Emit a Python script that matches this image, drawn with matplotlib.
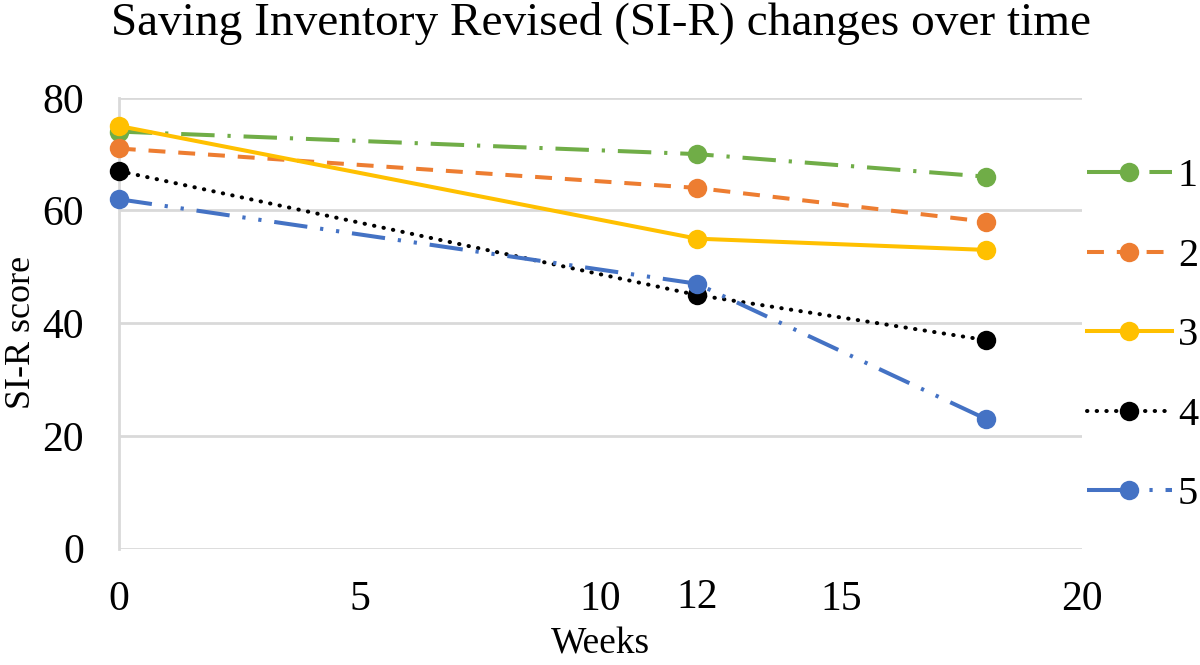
import matplotlib
matplotlib.use('Agg')
import matplotlib.pyplot as plt
import matplotlib.transforms as mtransforms

plt.rcParams['font.family'] = ['Liberation Serif', 'DejaVu Serif']

weeks = [0, 12, 18]
labels = ['1', '2', '3', '4', '5']
scores = [
    [74, 70, 66],
    [71, 64, 58],
    [75, 55, 53],
    [67, 45, 37],
    [62, 47, 23],
]
colors = ['#70AD47', '#ED7D31', '#FFC000', '#000000', '#4472C4']
styles = [
    (0, (8.3, 3.2, 0.8, 3.2)),
    (0, (4.2, 3.2)),
    '-',
    (0, (0.1, 2.3)),
    (0, (8.3, 3.2, 0.8, 3.2, 0.8, 3.2)),
]
xticks = [0, 5, 10, 15, 20]
yticks = [0, 20, 40, 60, 80]

fig = plt.figure(figsize=(12, 6.65), dpi=100)
ax = fig.add_axes([0.099, 0.175, 0.803, 0.678])

for i in range(len(labels)):
    ax.plot(weeks, scores[i], color=colors[i], linestyle=styles[i], linewidth=2.9,
            marker='o', markersize=14, markeredgewidth=0, clip_on=False,
            dash_capstyle='round' if i == 3 else 'butt', label=labels[i], zorder=3)

ax.set_xlim(0, 20)
ax.set_ylim(0, 80)
ax.set_xticks(xticks)
ax.set_yticks(yticks)
ax.tick_params(axis='both', length=0, labelsize=30)
ax.tick_params(axis='x', pad=23)
ax.tick_params(axis='y', pad=25)

# extra "12" label, sits a little higher than the others
trans = mtransforms.blended_transform_factory(ax.transData, ax.transAxes)
ax.text(12, -0.066, '12', transform=trans, ha='center', va='top', fontsize=30)

ax.grid(axis='y', color='#D9D9D9', linewidth=2)
ax.set_axisbelow(True)
for s in ['top', 'right', 'bottom']:
    ax.spines[s].set_visible(False)
ax.spines['left'].set_color('#D9D9D9')
ax.spines['left'].set_linewidth(2)

ax.set_xlabel('Weeks', fontsize=27, labelpad=6)
ax.set_ylabel('SI-R score', fontsize=26, labelpad=3)
ax.yaxis.label.set_y(0.48)
ax.set_title('Saving Inventory Revised (SI-R) changes over time', fontsize=34, pad=45)

ax.legend(loc='upper left', bbox_to_anchor=(0.906, 0.762), bbox_transform=fig.transFigure,
          frameon=False, fontsize=29, handlelength=2.1, labelspacing=1.05,
          handletextpad=0.15, borderpad=0, borderaxespad=0, numpoints=1)

fig.savefig('out.png', dpi=100)
